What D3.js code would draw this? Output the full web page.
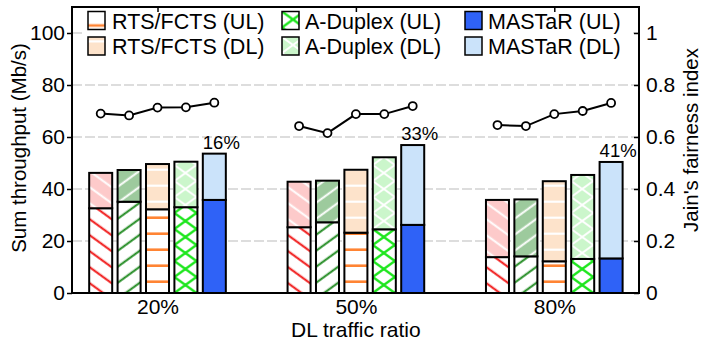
<!DOCTYPE html>
<html>
<head>
<meta charset="utf-8">
<script src="https://cdn.jsdelivr.net/npm/d3@7"></script>
<style>
  body { margin: 0; background: #fff; }
  svg { display: block; font-family: "Liberation Sans", Arial, sans-serif; }
</style>
</head>
<body>
<svg id="chart" width="706" height="343"></svg>
<script>
// ---- data ----
const ratios = ['20%', '50%', '80%'];
const schemes = ['Scheme A', 'Scheme B', 'RTS/FCTS', 'A-Duplex', 'MASTaR'];
// uplink / downlink sum throughput (Mb/s), one row per DL traffic ratio
const ulThroughput = [
  [32.6, 35.1, 32.2, 33.0, 35.8],
  [25.3, 27.2, 23.2, 24.5, 26.2],
  [13.8, 14.1, 12.2, 13.1, 13.3]
];
const dlThroughput = [
  [13.6, 12.2, 17.4, 17.5, 17.8],
  [17.5, 16.0, 24.2, 27.7, 30.7],
  [22.0, 21.9, 30.8, 32.3, 37.1]
];
// Jain's fairness index per scheme
const fairness = [
  [0.690, 0.683, 0.713, 0.714, 0.732],
  [0.642, 0.615, 0.688, 0.688, 0.719],
  [0.646, 0.642, 0.688, 0.700, 0.731]
];
const leftTicks = [0, 20, 40, 60, 80, 100];
const rightTicks = [0, 0.2, 0.4, 0.6, 0.8, 1];
const legendItems = [
  { scheme: 'RTS/FCTS', link: 'ul', label: 'RTS/FCTS (UL)' },
  { scheme: 'A-Duplex', link: 'ul', label: 'A-Duplex (UL)' },
  { scheme: 'MASTaR',   link: 'ul', label: 'MASTaR (UL)' },
  { scheme: 'RTS/FCTS', link: 'dl', label: 'RTS/FCTS (DL)' },
  { scheme: 'A-Duplex', link: 'dl', label: 'A-Duplex (DL)' },
  { scheme: 'MASTaR',   link: 'dl', label: 'MASTaR (DL)' }
];

// ---- styles ----
const styles = {
  'Scheme A': { ul: { kind: 'diag', angle: 36, bg: '#ffffff', fg: '#f01414', w: 2 },
                dl: { kind: 'diag', angle: 36, bg: '#fdcaca', fg: '#ffffff', w: 2 } },
  'Scheme B': { ul: { kind: 'diag', angle: -36, bg: '#ffffff', fg: '#1f8a1f', w: 2 },
                dl: { kind: 'diag', angle: -36, bg: '#9dca9d', fg: '#ffffff', w: 2 } },
  'RTS/FCTS': { ul: { kind: 'hline', bg: '#ffffff', fg: '#ff8433', w: 2.6 },
                dl: { kind: 'hline', bg: '#fde3cb', fg: '#ffffff', w: 2.2 } },
  'A-Duplex': { ul: { kind: 'cross', bg: '#ffffff', fg: '#1ee61e', w: 2.4 },
                dl: { kind: 'cross', bg: '#cbf6cb', fg: '#ffffff', w: 2 } },
  'MASTaR':   { ul: { kind: 'solid', bg: '#2f62f7' },
                dl: { kind: 'solid', bg: '#cbe3fa' } }
};

const plot = { left: 72, right: 639, top: 7, bottom: 293 };
const svg = d3.select('#chart');
const defs = svg.append('defs');

const x = d3.scaleLinear().domain([-0.431, 2.427]).range([plot.left, plot.right]);
const y = d3.scaleLinear().domain([0, 110]).range([plot.bottom, plot.top]);
const yR = d3.scaleLinear().domain([0, 1.1]).range([plot.bottom, plot.top]);
const barStep = 0.1432, barWidth = 0.116;
const bw = x(barWidth) - x(0);
const barCenter = (g, s) => x(g + (s - 2) * barStep);

// hatch patterns, anchored to the local origin of whatever references them
function makePattern(id, st, phase) {
  if (st.kind === 'solid') return st.bg;
  const p = defs.append('pattern').attr('id', id).attr('patternUnits', 'userSpaceOnUse');
  if (st.kind === 'hline' || st.kind === 'diag') {
    const h = st.kind === 'hline' ? 16 : 16 * Math.cos(36 * Math.PI / 180);
    p.attr('width', 10).attr('height', h);
    if (st.kind === 'diag') p.attr('patternTransform', `rotate(${st.angle})`);
    p.append('rect').attr('width', 10).attr('height', h).attr('fill', st.bg);
    [-h, 0, h].forEach(o => p.append('line')
      .attr('x1', -1).attr('x2', 11).attr('y1', phase + o).attr('y2', phase + o)
      .attr('stroke', st.fg).attr('stroke-width', st.w));
  } else if (st.kind === 'cross') {
    p.attr('width', 22).attr('height', 16);
    p.append('rect').attr('width', 22).attr('height', 16).attr('fill', st.bg);
    [-16, 0, 16].forEach(o => {
      p.append('line').attr('x1', -22).attr('y1', o - 16).attr('x2', 44).attr('y2', o + 32)
        .attr('stroke', st.fg).attr('stroke-width', st.w);
      p.append('line').attr('x1', -22).attr('y1', o + 32).attr('x2', 44).attr('y2', o - 16)
        .attr('stroke', st.fg).attr('stroke-width', st.w);
    });
  }
  return `url(#${id})`;
}

const barFill = {};
schemes.forEach((s, i) => {
  barFill[s] = {
    ul: makePattern(`bar-ul-${i}`, styles[s].ul, 4.7),
    dl: makePattern(`bar-dl-${i}`, styles[s].dl, 4.7)
  };
});

// ---- gridlines ----
svg.append('g').selectAll('line').data(leftTicks.filter(d => d > 0)).join('line')
  .attr('x1', plot.left).attr('x2', plot.right)
  .attr('y1', d => y(d)).attr('y2', d => y(d))
  .attr('stroke', '#d2d2d2').attr('stroke-width', 1.4).attr('stroke-dasharray', '10,3');

// ---- stacked bars ----
const barsG = svg.append('g');
ratios.forEach((r, g) => {
  schemes.forEach((s, i) => {
    const ul = ulThroughput[g][i], dl = dlThroughput[g][i];
    const bar = barsG.append('g')
      .attr('transform', `translate(${barCenter(g, i) - bw / 2},${y(0)})`);
    bar.append('rect')
      .attr('x', 0).attr('width', bw)
      .attr('y', y(ul) - y(0)).attr('height', y(0) - y(ul))
      .attr('fill', barFill[s].ul).attr('stroke', '#000').attr('stroke-width', 2);
    bar.append('rect')
      .attr('x', 0).attr('width', bw)
      .attr('y', y(ul + dl) - y(0)).attr('height', y(ul) - y(ul + dl))
      .attr('fill', barFill[s].dl).attr('stroke', '#000').attr('stroke-width', 2);
  });
});

// ---- gain of MASTaR over the first scheme ----
ratios.forEach((r, g) => {
  const tot = schemes.map((s, i) => ulThroughput[g][i] + dlThroughput[g][i]);
  const last = schemes.length - 1;
  const gain = Math.round((tot[last] / tot[0] - 1) * 100);
  svg.append('text')
    .attr('x', barCenter(g, last) - bw / 2).attr('y', y(tot[last]) - 5)
    .attr('font-size', 18.5).attr('fill', '#000')
    .text(gain + '%');
});

// ---- fairness lines ----
const fairG = svg.append('g');
ratios.forEach((r, g) => {
  const pts = fairness[g].map((v, i) => [barCenter(g, i), yR(v)]);
  fairG.append('path').attr('d', d3.line()(pts))
    .attr('fill', 'none').attr('stroke', '#000').attr('stroke-width', 2);
  fairG.selectAll(null).data(pts).join('circle')
    .attr('cx', d => d[0]).attr('cy', d => d[1]).attr('r', 4)
    .attr('fill', '#fff').attr('stroke', '#000').attr('stroke-width', 1.8);
});

// ---- legend ----
const legend = svg.append('g');
legend.append('rect').attr('x', 84).attr('y', 8.5).attr('width', 549).attr('height', 51).attr('fill', '#fff');
const colSwatch = [88, 282, 465], colText = [112, 305, 488];
const rowTop = [11.5, 37];
legendItems.forEach((it, k) => {
  const col = k % 3, row = Math.floor(k / 3);
  const st = styles[it.scheme][it.link];
  const phase = it.link === 'ul' ? 14 : 4.4;
  const fill = makePattern(`leg-${k}`, st, phase);
  const sw = legend.append('g').attr('transform', `translate(${colSwatch[col]},${rowTop[row]})`);
  sw.append('rect').attr('width', 17).attr('height', 18)
    .attr('fill', fill).attr('stroke', '#000').attr('stroke-width', 1.5);
  legend.append('text')
    .attr('x', colText[col]).attr('y', rowTop[row] + 17)
    .attr('font-size', 21.5).attr('fill', '#000')
    .text(it.label);
});

// ---- axes ----
svg.append('rect')
  .attr('x', plot.left).attr('y', plot.top)
  .attr('width', plot.right - plot.left).attr('height', plot.bottom - plot.top)
  .attr('fill', 'none').attr('stroke', '#000').attr('stroke-width', 2);

const leftAxis = svg.append('g').attr('transform', `translate(${plot.left},0)`)
  .call(d3.axisLeft(y).tickValues(leftTicks).tickSize(5).tickPadding(2).tickSizeOuter(0));
const rightAxis = svg.append('g').attr('transform', `translate(${plot.right},0)`)
  .call(d3.axisRight(yR).tickValues(rightTicks).tickSize(-5).tickPadding(7).tickSizeOuter(0)
    .tickFormat(d => String(d)));
const bottomAxis = svg.append('g').attr('transform', `translate(0,${plot.bottom})`)
  .call(d3.axisBottom(x).tickValues(ratios.map((r, i) => i)).tickSize(0).tickPadding(6)
    .tickFormat(i => ratios[i]));
const topAxis = svg.append('g').attr('transform', `translate(0,${plot.top})`)
  .call(d3.axisBottom(x).tickValues(ratios.map((r, i) => i)).tickSize(5).tickFormat(''));

[leftAxis, rightAxis, bottomAxis, topAxis].forEach(a => {
  a.select('.domain').remove();
  a.selectAll('.tick line').attr('stroke', '#000').attr('stroke-width', 1.5);
  a.selectAll('text').attr('font-size', 21).attr('fill', '#000')
    .attr('font-family', '"Liberation Sans", Arial, sans-serif');
});

// axis titles
svg.append('text')
  .attr('transform', `translate(26,148) rotate(-90)`)
  .attr('text-anchor', 'middle').attr('font-size', 20.5).attr('fill', '#000')
  .text('Sum throughput (Mb/s)');
svg.append('text')
  .attr('transform', `translate(698,140) rotate(-90)`)
  .attr('text-anchor', 'middle').attr('font-size', 20.5).attr('fill', '#000')
  .text("Jain's fairness index");
svg.append('text')
  .attr('x', x(1)).attr('y', 337)
  .attr('text-anchor', 'middle').attr('font-size', 21).attr('fill', '#000')
  .text('DL traffic ratio');
</script>
</body>
</html>
